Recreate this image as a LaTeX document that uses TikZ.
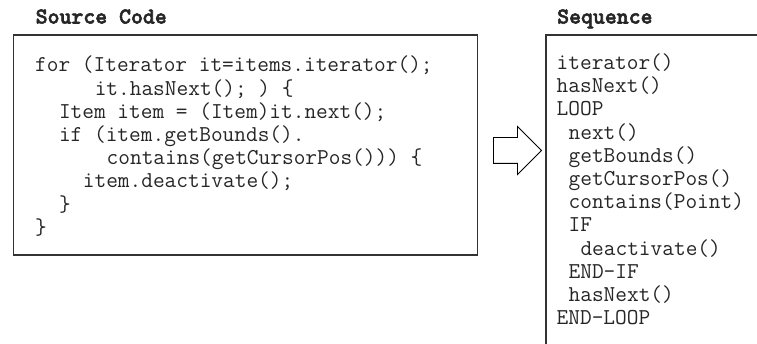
\documentclass[tikz,border=0pt]{standalone}
\usepackage{fontspec}
\newfontfamily\headfont{lmmonolt10-bold.otf}[FakeBold=2.5]
\usetikzlibrary{positioning,shapes.arrows}
\tikzset{
  frame/.style={draw=black!80, line width=1.5pt, inner sep=0pt},
  listing/.style={font=\ttfamily\fontsize{22.7}{23.2}\selectfont, align=left, inner sep=0pt, anchor=base west, text=black!85},
  heading/.style={font=\headfont\fontsize{22.7}{23.2}\selectfont, inner sep=0pt, anchor=base west, text=black!85},
  blockarrow/.style={single arrow, draw=black, fill=white, line width=0.9pt, inner xsep=0pt, inner ysep=12.5pt,
    single arrow head extend=11pt, minimum height=48pt}
}
\newcommand{\ind}[1]{\hspace*{#1em}}

\begin{document}
\begin{tikzpicture}[x=1pt,y=-1pt]
\clip (0,0) rectangle (757,344);
\node[frame, minimum width=464pt, minimum height=220pt, anchor=north west] (Src) at (12.5,34.5) {};
\node[frame, minimum width=300pt, minimum height=400pt, anchor=north west] (Seq) at (545,34.5) {};
\node[heading] (SrcT) at (35.5,23.5) {Source Code};
\node[heading] (SeqT) at (557,23.5) {Sequence};
\node[listing] (SrcL) at (35,234.4) {for (Iterator it=items.iterator();\\
\ind{2.625}it.hasNext(); ) \{\\
\ind{1.05}Item item = (Item)it.next();\\
\ind{1.05}if (item.getBounds().\\
\ind{3.15}contains(getCursorPos())) \{\\
\ind{2.1}item.deactivate();\\
\ind{1.05}\}\\
\}};
\node[listing] (SeqL) at (556.5,324.7) {iterator()\\
hasNext()\\
LOOP\\
\ind{.525}next()\\
\ind{.525}getBounds()\\
\ind{.525}getCursorPos()\\
\ind{.525}contains(Point)\\
\ind{.525}IF\\
\ind{1.05}deactivate()\\
\ind{.525}END-IF\\
\ind{.525}hasNext()\\
END-LOOP};
\node[blockarrow] (Arr) at (511,150.5) {};
\end{tikzpicture}
\end{document}
